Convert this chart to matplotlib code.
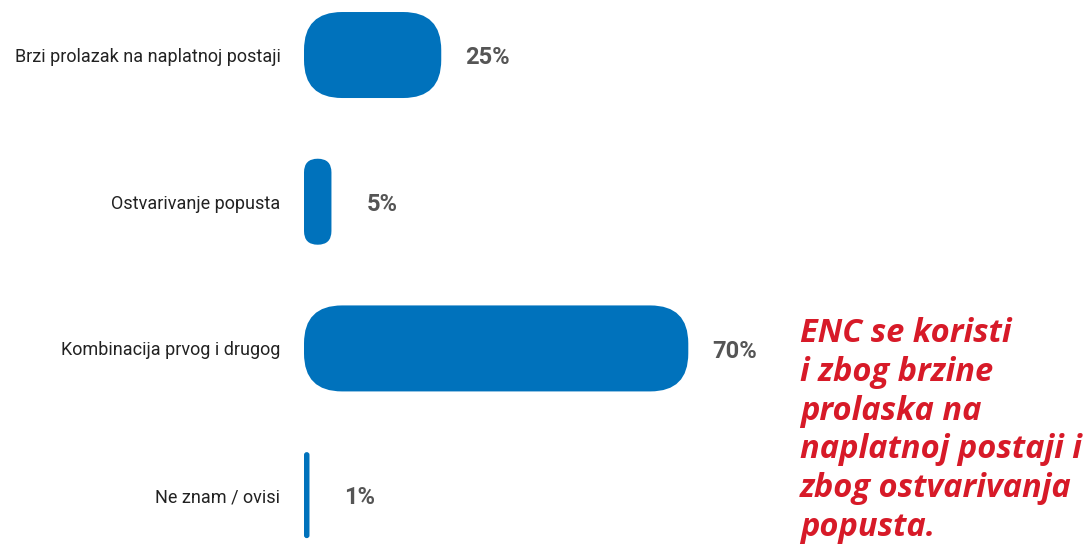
import matplotlib.pyplot as plt
from matplotlib.patches import FancyBboxPatch

categories = ['Brzi prolazak na naplatnoj postaji', 'Ostvarivanje popusta',
              'Kombinacija prvog i drugog', 'Ne znam / ovisi']
values = [25, 5, 70, 1]
value_labels = ['25%', '5%', '70%', '1%']
note = 'ENC se koristi\ni zbog brzine\nprolaska na\nnaplatnoj postaji i\nzbog ostvarivanja\npopusta.'

blue = '#0072bc'
grey = '#555555'
red = '#d71a28'

W, H = 1092, 550
fig = plt.figure(figsize=(W / 100, H / 100), dpi=100)
ax_left, ax_width = 304, 549   # pixels, 0..100 %
ax = fig.add_axes([ax_left / W, 0, ax_width / W, 1])
y_top, y_bot = -0.375, 3.374
ax.set_xlim(0, 100)
ax.set_ylim(y_bot, y_top)

px_x = ax_width / 100                  # pixels per percent
px_y = H / (y_bot - y_top)             # pixels per category unit
bar_h = 86 / px_y
radius_px = 38

for i, v in enumerate(values):
    w = v
    r = min(radius_px / px_x, w / 2)
    aspect = (1 / px_y) / (1 / px_x)
    box = FancyBboxPatch((0, i - bar_h / 2), w, bar_h,
                         boxstyle=f'round,pad=0,rounding_size={r}',
                         mutation_aspect=aspect, fc=blue, ec='none')
    ax.add_patch(box)
    off = 24 if v >= 10 else 35
    ax.annotate(value_labels[i], (v, i), xytext=(off * 0.72, -2), textcoords='offset points',
                va='center', ha='left', fontsize=17, fontweight='bold', color=grey,
                family=['Roboto', 'DejaVu Sans'])

ax.set_yticks(range(len(categories)))
ax.set_yticklabels(categories, fontsize=13, color='#222222',
                   family=['Roboto', 'DejaVu Sans'])
ax.tick_params(axis='y', length=0, pad=17)
ax.set_xticks([])
for s in ax.spines.values():
    s.set_visible(False)

fig.text(800 / W, 1 - 317 / H, note, ha='left', va='top', fontsize=23.5, color=red,
         fontweight='bold', style='italic', linespacing=1.23,
         family=['Open Sans', 'DejaVu Sans'])

fig.savefig('out.png', dpi=100, facecolor='white')
